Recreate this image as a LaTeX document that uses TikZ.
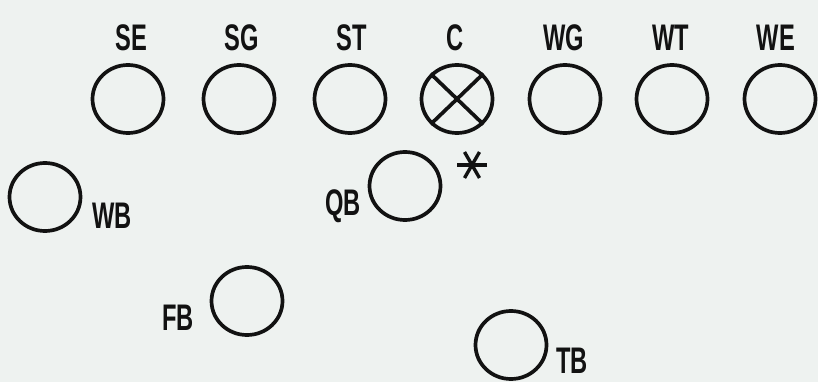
\documentclass[tikz,border=0pt]{standalone}
\usepackage{fontspec}
\setmainfont{Liberation Sans}[FakeStretch=0.64]
\usetikzlibrary{shapes.geometric,calc}
\definecolor{bg}{RGB}{238,242,240}
\definecolor{ink}{RGB}{18,18,18}
\tikzset{
  player/.style={draw=ink, line width=3.7pt, ellipse, minimum width=71pt, minimum height=68pt, inner sep=0pt},
  lbl/.style={text=ink, font=\fontsize{37}{37}\selectfont\bfseries, anchor=base, inner sep=0pt},
  crossline/.style={draw=ink, line width=3.7pt},
  star/.style={draw=ink, line width=3.4pt}
}
\begin{document}
\begin{tikzpicture}[x=1pt,y=-1pt]
\fill[bg] (0,0) rectangle (818,382);
\useasboundingbox (0,0) rectangle (818,382);
% line of scrimmage
\node[player] (SE) at (128,99) {};
\node[player] (SG) at (239,99) {};
\node[player] (ST) at (350,99) {};
\node[player] (C)  at (457,99) {};
\node[player] (WG) at (565,99) {};
\node[player] (WT) at (672,99) {};
\node[player] (WE) at (780,99) {};
\draw[crossline] (C.north west) -- (C.south east);
\draw[crossline] (C.north east) -- (C.south west);
\node[lbl] (lSE) at (131,51) {SE};
\node[lbl] (lSG) at (242,51) {SG};
\node[lbl] (lST) at (352,51) {ST};
\node[lbl] (lC)  at (455,51) {C};
\node[lbl] (lWG) at (564,51) {WG};
\node[lbl] (lWT) at (671,51) {WT};
\node[lbl] (lWE) at (776,51) {WE};
% backfield
\node[player] (WB) at (45,197) {};
\node[lbl] (lWB) at (112,228) {WB};
\node[player] (QB) at (405,186) {};
\node[lbl] (lQB) at (343,215) {QB};
\node[player] (FB) at (247,301) {};
\node[lbl] (lFB) at (178,330) {FB};
\node[player] (TB) at (511,345) {};
\node[lbl] (lTB) at (572,373) {TB};
% asterisk
\coordinate (ast) at (472,165);
\foreach \a in {0,60,120} {
  \draw[star] ($(ast)+(\a:15)$) -- ($(ast)+(\a+180:15)$);
}
\end{tikzpicture}
\end{document}
